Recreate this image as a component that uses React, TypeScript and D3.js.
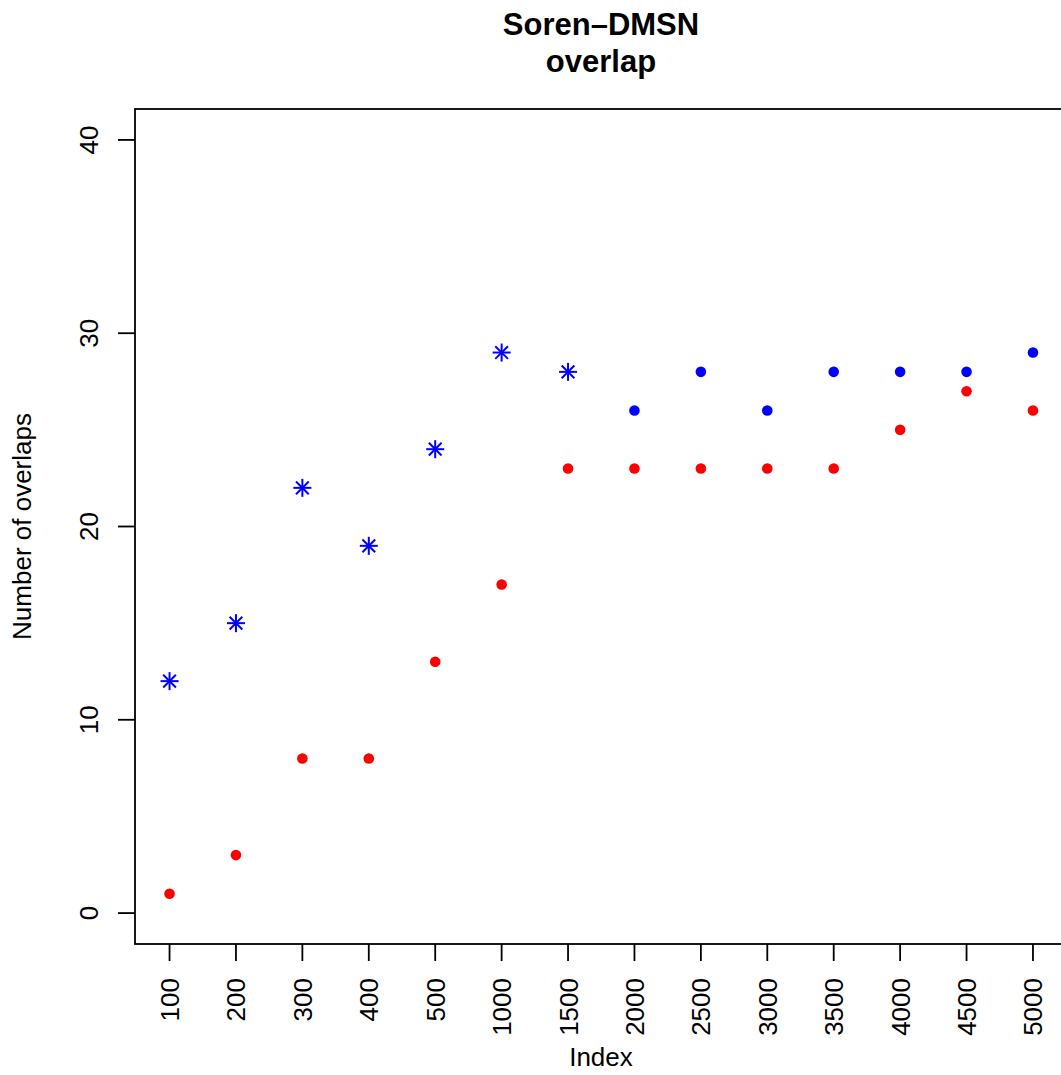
import React from "react";
import * as d3 from "d3";

const categories = ["100","200","300","400","500","1000","1500","2000","2500","3000","3500","4000","4500","5000"];
const blueValues = [12, 15, 22, 19, 24, 29, 28, 26, 28, 26, 28, 28, 28, 29];
const blueShape = ["star","star","star","star","star","star","star","dot","dot","dot","dot","dot","dot","dot"];
const redValues = [1, 3, 8, 8, 13, 17, 23, 23, 23, 23, 23, 25, 27, 26];
const yTicks = [0, 10, 20, 30, 40];

const W = 1061, H = 1075;
const left = 135, right = 1067.5, top = 109, bottom = 944;
const font = "'Liberation Sans', Arial, Helvetica, sans-serif";

export default function App() {
  const n = categories.length;
  const x = d3.scaleLinear().domain([1 - 0.04 * (n - 1), n + 0.04 * (n - 1)]).range([left, right]);
  const y = d3.scaleLinear().domain([-1.6, 41.6]).range([bottom, top]);
  const r = 9;
  const d = r * 0.7071;
  return (
    <svg width={W} height={H} style={{ position: "absolute", left: 0, top: 0, background: "#fff" }} fontFamily={font}>
      <text x={601} y={35} textAnchor="middle" fontWeight="bold" fontSize={31}>Soren–DMSN</text>
      <text x={601} y={72} textAnchor="middle" fontWeight="bold" fontSize={31}>overlap</text>
      <rect x={left} y={top} width={right - left} height={bottom - top} fill="none" stroke="#000" strokeWidth={1.8} />
      {yTicks.map((t) => (
        <g key={t}>
          <line x1={left - 17} x2={left} y1={y(t)} y2={y(t)} stroke="#000" strokeWidth={1.8} />
          <text transform={`translate(${98},${y(t)}) rotate(-90)`} textAnchor="middle" fontSize={26}>{t}</text>
        </g>
      ))}
      {categories.map((c, i) => (
        <g key={c}>
          <line x1={x(i + 1)} x2={x(i + 1)} y1={bottom} y2={bottom + 17} stroke="#000" strokeWidth={1.8} />
          <text transform={`translate(${x(i + 1) + 9.5},${978}) rotate(-90)`} textAnchor="end" fontSize={26}>{c}</text>
        </g>
      ))}
      <text x={601} y={1066} textAnchor="middle" fontSize={26}>Index</text>
      <text transform={`translate(31,${(top + bottom) / 2}) rotate(-90)`} textAnchor="middle" fontSize={26}>Number of overlaps</text>
      {redValues.map((v, i) => (
        <circle key={"r" + i} cx={x(i + 1)} cy={y(v)} r={5.3} fill="#ff0000" />
      ))}
      {blueValues.map((v, i) => {
        const cx = x(i + 1), cy = y(v);
        if (blueShape[i] === "dot") return <circle key={"b" + i} cx={cx} cy={cy} r={5.3} fill="#0000ff" />;
        return (
          <g key={"b" + i} stroke="#0000ff" strokeWidth={2}>
            <line x1={cx - r} x2={cx + r} y1={cy} y2={cy} />
            <line x1={cx} x2={cx} y1={cy - r} y2={cy + r} />
            <line x1={cx - d} x2={cx + d} y1={cy - d} y2={cy + d} />
            <line x1={cx - d} x2={cx + d} y1={cy + d} y2={cy - d} />
          </g>
        );
      })}
    </svg>
  );
}
